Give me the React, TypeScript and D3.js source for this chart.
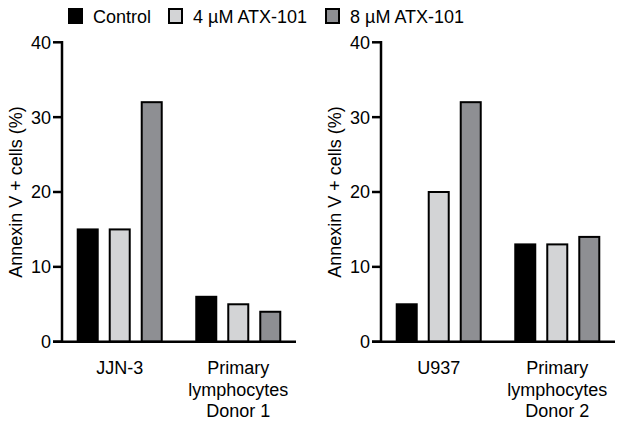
import React from "react";
import * as d3 from "d3";

const seriesNames = ["Control", "4 µM ATX-101", "8 µM ATX-101"];
const seriesColors = ["#000000", "#d3d4d6", "#8e8f93"];
const leftCategories = ["JJN-3", "Primary lymphocytes Donor 1"];
const leftLabels = [["JJN-3"], ["Primary", "lymphocytes", "Donor 1"]];
const leftValues = [
  [15, 15, 32],
  [6, 5, 4],
];
const rightCategories = ["U937", "Primary lymphocytes Donor 2"];
const rightLabels = [["U937"], ["Primary", "lymphocytes", "Donor 2"]];
const rightValues = [
  [5, 20, 32],
  [13, 13, 14],
];
const yTicks = [0, 10, 20, 30, 40];
const yTitle = "Annexin V + cells (%)";

const FONT = "Liberation Sans, Arial, Helvetica, sans-serif";

function Panel({ x0, x1, categories, labels, values }: any) {
  const y = d3.scaleLinear().domain([0, 40]).range([341.7, 42.3]);
  const gx = d3.scalePoint<string>().domain(categories).range([x0, x1]).padding(0.487);
  const inner = d3
    .scaleBand<string>()
    .domain(seriesNames)
    .range([-48, 48])
    .paddingInner(0.3125)
    .paddingOuter(0.156);
  const bw = inner.bandwidth();
  return (
    <g>
      {categories.map((c: string, gi: number) =>
        seriesNames.map((s, si) => {
          const v = values[gi][si];
          const cx = (gx(c) as number) + (inner(s) as number);
          return (
            <rect
              key={c + s}
              x={cx + 1}
              y={y(v)}
              width={bw - 2}
              height={y(0) - y(v)}
              fill={seriesColors[si]}
              stroke="#000"
              strokeWidth={2}
            />
          );
        })
      )}
      {/* y axis */}
      <line x1={x0} x2={x0} y1={y(40) - 1.25} y2={y(0)} stroke="#000" strokeWidth={2.5} />
      {yTicks.map((t) => (
        <g key={t}>
          <line x1={x0 - 9} x2={x0} y1={y(t)} y2={y(t)} stroke="#000" strokeWidth={2.5} />
          <text
            x={x0 - 11}
            y={y(t)}
            dy="0.36em"
            textAnchor="end"
            fontSize={18}
            fontFamily={FONT}
            fill="#000"
          >
            {t}
          </text>
        </g>
      ))}
      {/* x axis */}
      <line x1={x0 - 9} x2={x1} y1={y(0)} y2={y(0)} stroke="#000" strokeWidth={2.5} />
      {categories.map((c: string, gi: number) => (
        <text
          key={c}
          x={gx(c) as number}
          y={373}
          textAnchor="middle"
          fontSize={18}
          fontFamily={FONT}
          fill="#000"
        >
          {labels[gi].map((l: string, li: number) => (
            <tspan key={li} x={gx(c) as number} y={374 + li * 21.5}>
              {l}
            </tspan>
          ))}
        </text>
      ))}
      <text
        transform={`translate(${x0 - 40},${(y(0) + y(40)) / 2}) rotate(-90)`}
        textAnchor="middle"
        fontSize={18}
        fontFamily={FONT}
        fill="#000"
      >
        {yTitle}
      </text>
    </g>
  );
}

export default function App() {
  const legendX = [68, 168, 325];
  return (
    <svg
      width={621}
      height={424}
      style={{ position: "absolute", left: 0, top: 0, background: "#fff" }}
    >
      <rect width={621} height={424} fill="#fff" />
      {seriesNames.map((s, i) => (
        <g key={s}>
          <rect
            x={legendX[i] + 1}
            y={9}
            width={13}
            height={14}
            fill={seriesColors[i]}
            stroke="#000"
            strokeWidth={2}
          />
          <text x={legendX[i] + 25} y={23} fontSize={18} fontFamily={FONT} fill="#000">
            {s}
          </text>
        </g>
      ))}
      <Panel x0={62} x1={296} categories={leftCategories} labels={leftLabels} values={leftValues} />
      <Panel x0={381} x1={615} categories={rightCategories} labels={rightLabels} values={rightValues} />
    </svg>
  );
}
